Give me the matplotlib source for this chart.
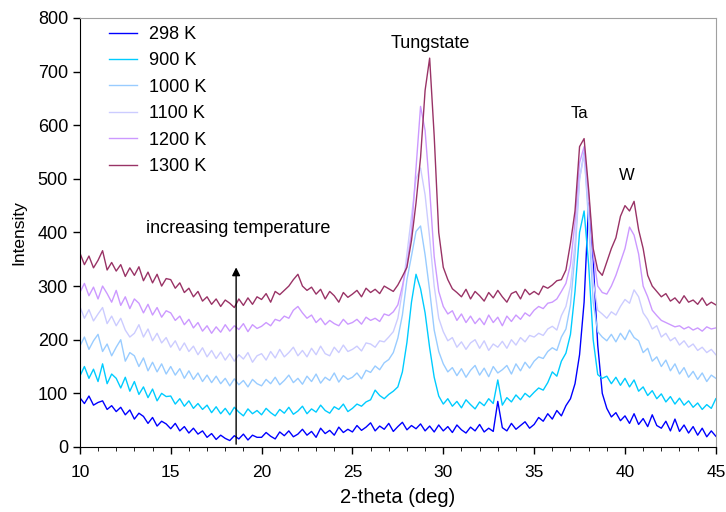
import numpy as np
import matplotlib
matplotlib.use("Agg")
import matplotlib.pyplot as plt
from matplotlib.ticker import MultipleLocator

plt.rcParams['font.family'] = ['Liberation Sans', 'DejaVu Sans']

# 2-theta grid, 10..45 deg in 0.25 steps (141 points)
two_theta = np.arange(141) * 0.25 + 10.0

# intensities, one row = 5 deg
i_298 = [
    92, 81, 95, 78, 83, 86, 70, 77, 66, 74, 60, 69, 52, 63, 57, 44, 55, 39, 48, 43,
    34, 44, 30, 38, 26, 35, 24, 30, 18, 25, 14, 22, 16, 12, 21, 15, 24, 13, 22, 18,
    18, 27, 20, 15, 28, 21, 30, 19, 24, 33, 22, 29, 18, 35, 25, 31, 22, 37, 27, 33,
    28, 40, 31, 37, 45, 30, 39, 33, 44, 29, 38, 46, 32, 40, 34, 43, 30, 39, 28, 41,
    30, 38, 27, 41, 32, 26, 37, 30, 42, 28, 35, 29, 85, 36, 30, 44, 33, 40, 47, 35,
    42, 55, 48, 62, 52, 68, 58, 77, 90, 118, 172, 270, 455, 345, 190, 100, 72, 56, 64, 49,
    58, 44, 62, 42, 53, 38, 60, 40, 35, 48, 30, 52, 29, 41, 26, 38, 22, 35, 19, 30,
    20]
i_900 = [
    132, 150, 128, 145, 122, 155, 118, 136, 128, 110, 130, 104, 122, 98, 112, 92, 108, 86, 100, 94,
    95, 80, 90, 76, 86, 72, 81, 70, 78, 64, 75, 62, 72, 60, 74, 65, 58, 71, 62, 68,
    60, 72, 64, 58, 70, 63, 74, 61, 67, 76, 62, 71, 65, 78, 68, 63, 75, 70, 80, 66,
    72, 80, 76, 84, 88, 106, 96, 90, 98, 104, 112, 140, 195, 270, 322, 295, 250, 185, 130, 95,
    80, 90, 76, 85, 73, 88, 79, 71, 84, 77, 90, 81, 125, 78, 92, 84, 97, 88, 100, 93,
    102, 110, 106, 120, 140, 132, 160, 175, 210, 290, 400, 440, 340, 200, 135, 128, 132, 118, 130, 115,
    128, 112, 125, 104, 112, 96, 105, 90, 99, 84, 94, 80, 91, 78, 86, 74, 82, 70, 79, 72,
    90]
i_1000 = [
    188, 205, 182, 198, 210, 178, 192, 170, 186, 200, 160, 176, 170, 150, 166, 142, 158, 140, 155, 136,
    150, 134, 146, 128, 142, 126, 138, 122, 134, 120, 132, 118, 128, 114, 127, 116, 124, 112, 126, 118,
    114, 126, 118, 130, 116, 124, 134, 120, 128, 117, 132, 122, 136, 119, 130, 124, 138, 121, 133, 126,
    130, 138, 127, 143, 139, 151, 144, 157, 163, 176, 203, 246, 312, 356, 402, 412, 358, 292, 218, 178,
    155, 140, 148, 133, 146, 130, 143, 152, 134, 147, 131, 150, 138, 144, 152, 136, 155, 142, 158, 147,
    160, 168, 165, 178, 185, 180, 205, 220, 265, 360, 500, 550, 420, 270, 215, 205, 198, 210, 196, 212,
    200, 218, 204, 198, 176, 184, 160, 168, 150, 162, 142, 155, 136, 148, 130, 141, 126, 138, 122, 134,
    128]
i_1100 = [
    262, 240, 256, 235, 248, 260, 230, 244, 226, 240, 218, 205, 212, 228, 205, 220, 198, 212, 194, 204,
    186, 198, 180, 194, 178, 188, 172, 185, 168, 180, 165, 177, 162, 174, 160, 172, 164, 176, 158, 170,
    174, 162, 178, 166, 182, 168, 176, 186, 170, 180, 168, 184, 172, 188, 174, 170, 186, 176, 190, 178,
    182, 188, 179, 194, 192, 186, 198, 196, 205, 215, 240, 290, 360, 430, 500, 520, 470, 390, 300, 240,
    215, 198, 204, 186, 196, 182, 194, 200, 184, 198, 180, 192, 186, 197, 184, 200, 190, 204, 196, 208,
    205, 212, 208, 220, 225, 218, 245, 262, 300, 380, 500, 545, 440, 310, 255, 248, 240, 252, 246, 262,
    275, 268, 293, 280, 250, 238, 220, 226, 205, 212, 198, 204, 190, 198, 186, 192, 180, 186, 176, 182,
    172]
i_1200 = [
    288, 305, 282, 298, 276, 300, 286, 270, 292, 264, 280, 258, 276, 268, 250, 266, 246, 260, 242, 254,
    250, 236, 244, 228, 238, 222, 232, 216, 226, 212, 224, 214, 228, 216, 226, 219, 230, 215, 228, 221,
    225, 232, 226, 238, 235, 244, 240, 255, 262, 250, 240, 246, 232, 240, 228, 236, 230, 226, 238, 229,
    232, 238, 229, 242, 236, 240, 234, 248, 245, 252, 265, 300, 340, 400, 520, 635, 590, 480, 355, 290,
    262, 248, 254, 236, 248, 232, 244, 230, 240, 228, 246, 232, 242, 226, 244, 234, 246, 238, 250, 244,
    255, 262, 258, 268, 270, 276, 290, 305, 340, 420, 530, 560, 470, 360, 300, 288, 285, 300, 320, 345,
    370, 410, 395, 360, 300, 280, 255, 245, 236, 232, 228, 224, 226, 220, 224, 218, 222, 216, 224, 220,
    222]
i_1300 = [
    362, 340, 356, 334, 348, 366, 330, 344, 328, 340, 318, 334, 320, 336, 310, 326, 306, 322, 300, 314,
    312, 296, 306, 288, 296, 280, 290, 272, 280, 266, 276, 262, 274, 268, 260, 276, 264, 278, 266, 280,
    275, 286, 270, 290, 284, 292, 300, 312, 322, 300, 292, 298, 285, 294, 276, 290, 282, 270, 288, 279,
    285, 292, 280, 296, 288, 294, 286, 300, 295, 290, 302, 318, 335, 385, 455, 540, 665, 725, 580, 400,
    335, 312, 295, 288, 280, 294, 276, 290, 282, 272, 288, 278, 292, 280, 270, 286, 290, 276, 294, 284,
    290, 284, 300, 296, 302, 310, 312, 330, 380, 440, 560, 575, 480, 370, 330, 320, 345, 370, 390, 430,
    450, 440, 458, 405, 370, 320, 300, 290, 280, 286, 272, 278, 268, 282, 270, 274, 266, 278, 264, 270,
    265]

labels = ['298 K', '900 K', '1000 K', '1100 K', '1200 K', '1300 K']
series = [i_298, i_900, i_1000, i_1100, i_1200, i_1300]
colors = ['#0000ff', '#00ccff', '#99ccff', '#ccccff', '#cc99ff', '#993366']

fig = plt.figure(figsize=(7.26, 5.12), dpi=100)
ax = fig.add_axes([0.110, 0.127, 0.876, 0.838])

for lab, y, c in zip(labels, series, colors):
    ax.plot(two_theta, y, color=c, lw=1.0, label=lab)

ax.set_xlim(10, 45)
ax.set_ylim(0, 800)
ax.xaxis.set_major_locator(MultipleLocator(5))
ax.xaxis.set_minor_locator(MultipleLocator(1))
ax.yaxis.set_major_locator(MultipleLocator(100))
ax.tick_params(axis='both', direction='out', width=1, length=5)
ax.tick_params(axis='y', labelsize=13)
ax.tick_params(axis='x', labelsize=12.5, pad=8)
ax.tick_params(axis='x', which='minor', direction='out', length=3)

for s in ['top', 'right']:
    ax.spines[s].set_color('#a0a0a0')

ax.set_xlabel('2-theta (deg)', fontsize=14.5, labelpad=6)
ax.set_ylabel('Intensity', fontsize=12.5, labelpad=8)

ax.text(29.3, 752, 'Tungstate', ha='center', va='center', fontsize=13)
ax.text(37.5, 621, 'Ta', ha='center', va='center', fontsize=12)
ax.text(40.1, 506, 'W', ha='center', va='center', fontsize=12)
ax.text(18.7, 408, 'increasing temperature', ha='center', va='center', fontsize=13)
ax.annotate('', xy=(18.6, 340), xytext=(18.6, 0),
            arrowprops=dict(arrowstyle='-|>', color='black', lw=1, mutation_scale=12))

ax.legend(loc='upper left', bbox_to_anchor=(0.02, 1.019), frameon=False, fontsize=13,
          handlelength=1.55, labelspacing=0.52, handletextpad=0.65)

fig.savefig('out.png', dpi=100)
